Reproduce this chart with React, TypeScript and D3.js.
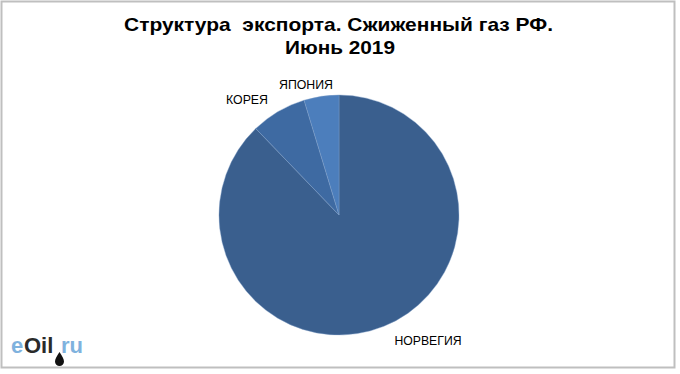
import React from "react";
import * as d3 from "d3";

const categories = ["НОРВЕГИЯ", "КОРЕЯ", "ЯПОНИЯ"];
const values = [87.8, 7.5, 4.7];
const colors = ["#3a5f8e", "#3e6aa2", "#4c7ebc"];
const titleLines = ["Структура\u00a0 экспорта. Сжиженный газ РФ.", "Июнь 2019"];

export default function App() {
  const W = 680, H = 374;
  const cx = 339, cy = 215, r = 120;
  const pie = d3.pie<number>().sort(null).startAngle(0).endAngle(2 * Math.PI);
  const arcs = pie(values);
  const arcGen = d3.arc<d3.PieArcDatum<number>>().innerRadius(0).outerRadius(r);
  const labelPos: [number, number][] = [[428, 345], [247, 104], [306, 89]];
  const labelLen = [67, 42, 54];
  return (
    <svg width={W} height={H} style={{ position: "absolute", left: 0, top: 0 }}>
      <rect x={0} y={0} width={W} height={H} fill="#fff" />
      <rect x={1.5} y={1.5} width={673} height={366} fill="#fff" stroke="#bfbfbf" strokeWidth={2} />
      <g fontFamily="Liberation Sans, Arial, sans-serif" fontWeight="bold" fontSize={18.5} fill="#000">
        <text x={124} y={31} textLength={429} lengthAdjust="spacingAndGlyphs">{titleLines[0]}</text>
        <text x={285} y={54} textLength={110} lengthAdjust="spacingAndGlyphs">{titleLines[1]}</text>
      </g>
      <g transform={`translate(${cx},${cy})`}>
        {arcs.map((a, i) => (
          <path key={i} d={arcGen(a) || ""} fill={colors[i]} stroke="#7f9fc8" strokeWidth={0.6} strokeOpacity={0.7} />
        ))}
      </g>
      <g fontFamily="Liberation Sans, Arial, sans-serif" fontSize={12} textAnchor="middle" fill="#000">
        {categories.map((c, i) => (
          <text key={c} x={labelPos[i][0]} y={labelPos[i][1]} textLength={labelLen[i]} lengthAdjust="spacingAndGlyphs">{c}</text>
        ))}
      </g>
      <g fontFamily="Liberation Sans, Arial, sans-serif" fontSize={22} fontWeight="bold">
        <text x={11} y={353} fill="#7fb2de">e</text>
        <text x={24} y={353} fill="#2a2a2a">Oil</text>
        <text x={61} y={353} fill="#7fb2de">ru</text>
        <path d="M59.5,352 C57,356 55,359 55,361.5 A4.5,4.5 0 0 0 64,361.5 C64,359 62,356 59.5,352 Z" fill="#111" />
      </g>
    </svg>
  );
}
